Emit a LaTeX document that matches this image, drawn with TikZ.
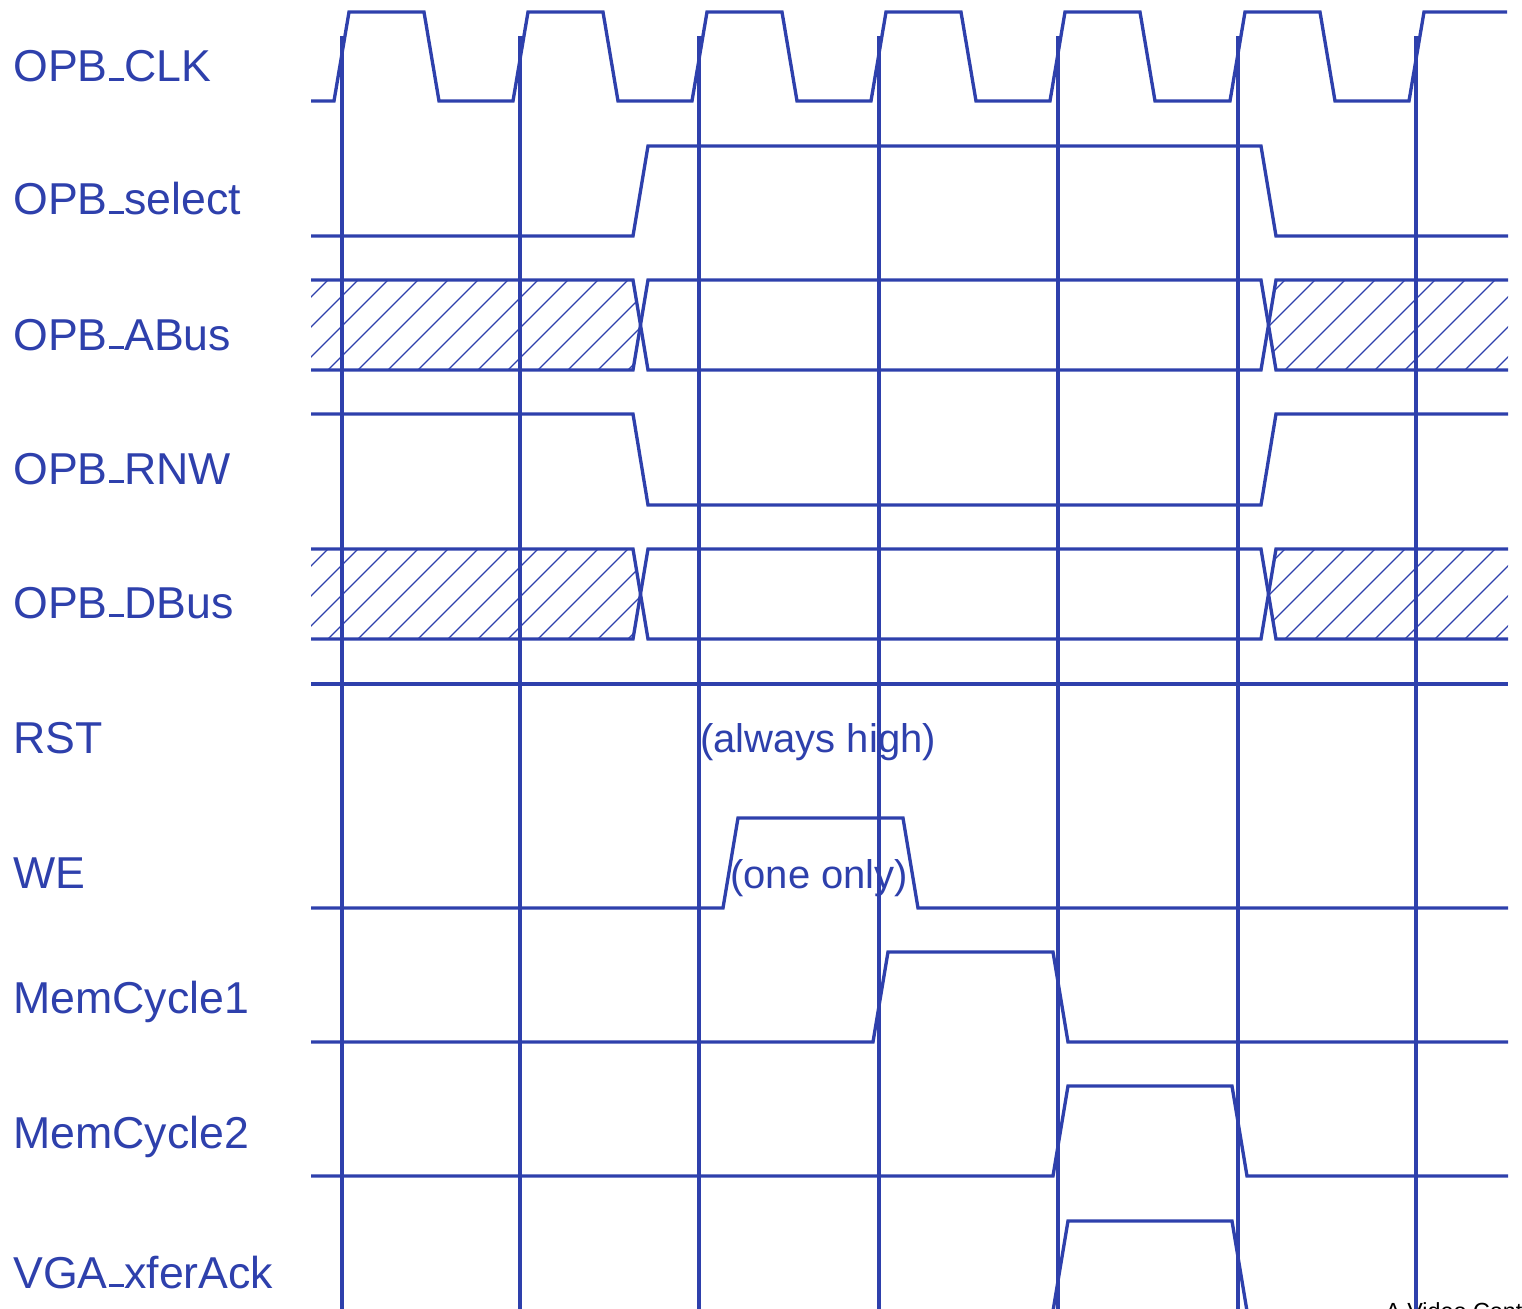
\documentclass[tikz,border=0pt]{standalone}
\usepackage{fontspec}
\setmainfont{Liberation Sans}
\definecolor{sig}{RGB}{46,64,172}
\newcommand\usc{\kern0.04em\rule[0.02em]{0.335em}{0.065em}}
\tikzset{
  wave/.style={draw=sig, line width=2.5pt},
  edge/.style={draw=sig, line width=2.6pt},
  hatch/.style={draw=sig, line width=0.85pt},
  lbl/.style={anchor=base west, inner sep=0pt, text=sig, font=\fontsize{33.5}{40}\selectfont},
  note/.style={anchor=base west, inner sep=0pt, text=sig, font=\fontsize{30}{36}\selectfont},
}
\begin{document}
\begin{tikzpicture}[x=0.75pt, y=-0.75pt]
\useasboundingbox (0,0) rectangle (1522,1309);
\clip (0,0) rectangle (1522,1309);

% labels
\node[lbl] (lclk) at (13,82) {OPB\usc CLK};
\node[lbl] (lsel) at (13,215) {OPB\usc select};
\node[lbl] (labus) at (13,350) {OPB\usc ABus};
\node[lbl] (lrnw) at (13,484) {OPB\usc RNW};
\node[lbl] (ldbus) at (13,618) {OPB\usc DBus};
\node[lbl] (lrst) at (13,753) {RST};
\node[lbl] (lwe) at (13,888) {WE};
\node[lbl] (lmc1) at (13,1013) {MemCycle1};
\node[lbl] (lmc2) at (13,1148) {MemCycle2};
\node[lbl] (lvga) at (13,1288) {VGA\usc xferAck};

% clock
\draw[wave] (311,101)
  foreach \e in {342,521,700,879,1058,1238} { -- (\e-8,101) -- (\e+7,12) -- (\e+82,12) -- (\e+97,101) }
  -- (1409,101) -- (1424,12) -- (1507,12);

% select
\draw[wave] (311,236) -- (633,236) -- (648,146) -- (1261,146) -- (1276,236) -- (1508,236);

% hatched bus regions
\foreach \yt/\yb in {280/370, 549/639} {
  \pgfmathsetmacro{\ym}{(\yt+\yb)/2}
  \begin{scope}
    \clip (311,\yt) -- (633,\yt) -- (641,\ym) -- (633,\yb) -- (311,\yb) -- cycle;
    \foreach \n in {-4,...,11} {
      \draw[hatch] ({328+30*\n},\yb) -- ({328+30*\n+90},\yt);
    }
  \end{scope}
  \begin{scope}
    \clip (1276,\yt) -- (1508,\yt) -- (1508,\yb) -- (1276,\yb) -- (1268.5,\ym) -- cycle;
    \foreach \n in {-4,...,8} {
      \draw[hatch] ({1285+30*\n},\yb) -- ({1285+30*\n+90},\yt);
    }
  \end{scope}
  \draw[wave] (311,\yt) -- (633,\yt) -- (648,\yb) -- (1261,\yb) -- (1276,\yt) -- (1508,\yt);
  \draw[wave] (311,\yb) -- (633,\yb) -- (648,\yt) -- (1261,\yt) -- (1276,\yb) -- (1508,\yb);
}

% RNW
\draw[wave] (311,414) -- (633,414) -- (648,505) -- (1261,505) -- (1276,414) -- (1508,414);

% RST
\draw[wave] (311,684) -- (1508,684);
\node[note] (rstnote) at (700,752) {(always high)};

% WE
\draw[wave] (311,908) -- (723,908) -- (738,818) -- (903,818) -- (918,908) -- (1508,908);
\node[note] (wenote) at (730,888) {(one only)};

% MemCycle1
\draw[wave] (311,1042) -- (873,1042) -- (888,952) -- (1053,952) -- (1068,1042) -- (1508,1042);
% MemCycle2
\draw[wave] (311,1176) -- (1053,1176) -- (1068,1086) -- (1232,1086) -- (1247,1176) -- (1508,1176);
% VGA_xferAck
\draw[wave] (311,1311) -- (1053,1311) -- (1068,1221) -- (1232,1221) -- (1247,1311) -- (1508,1311);

% clock edge markers
\foreach \x in {342,520,699,879,1058,1238,1416} {
  \draw[edge] (\x,36) -- (\x,1320);
}

% cut-off caption (cut by the page edge, as in the reference)
\node[anchor=base west, inner sep=0pt, font=\fontsize{17.5}{20}\selectfont] (cap) at (1385,1319) {A Video Contr};
\end{tikzpicture}
\end{document}
